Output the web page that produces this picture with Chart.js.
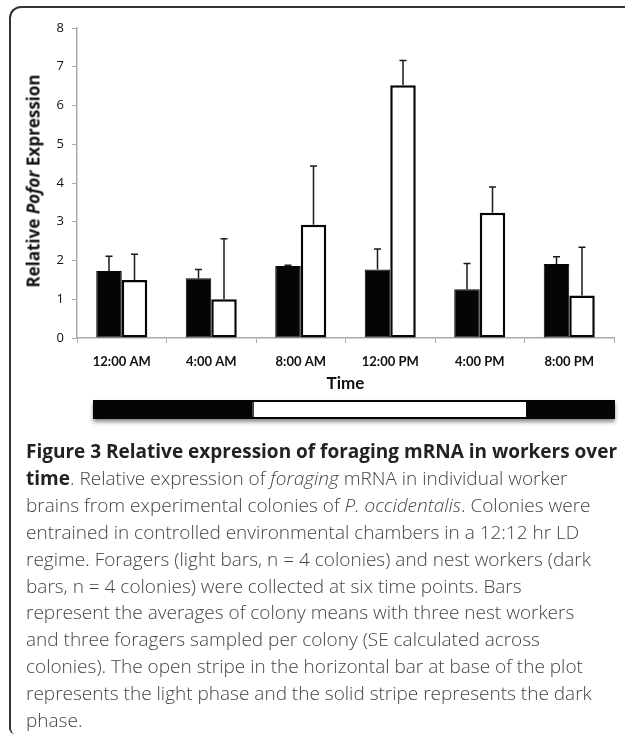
<!DOCTYPE html>
<html>
<head>
<meta charset="utf-8">
<script src="https://cdn.jsdelivr.net/npm/chart.js@4.4.1/dist/chart.umd.min.js"></script>
<style>
  html, body { margin: 0; padding: 0; background: #fff; }
  #page { position: relative; width: 625px; height: 737px; overflow: hidden; }
  #frame {
    position: absolute; left: 9px; top: 6px; width: 640px; height: 728px;
    border-top: 2px solid #333; border-left: 2px solid #333;
    border-top-left-radius: 12px; border-bottom-left-radius: 6px;
    box-sizing: border-box;
  }
  #chartBox { position: absolute; left: 0; top: 0; width: 625px; height: 400px; }
  #ytitle {
    position: absolute; left: 33px; top: 181px; white-space: nowrap;
    font: bold 17px "Open Sans", sans-serif; color: #111;
    transform: translate(-50%, -50%) rotate(-90deg);
  }
  #stripe {
    position: absolute; left: 93px; top: 400px; width: 522px; height: 19px;
    background: #050505; box-shadow: 0 3px 4px rgba(0,0,0,0.45);
  }
  #light {
    position: absolute; left: 159px; top: 2px; width: 272px; height: 15px;
    background: #fff; border-left: 2px solid #444;
  }
  #caption {
    position: absolute; left: 26px; top: 438px;
    font: 19px "Open Sans", sans-serif; line-height: 26.9px; color: #444;
    font-weight: 300;
  }
  #caption div { white-space: nowrap; }
  #caption b { color: #222; font-weight: 700; }
</style>
</head>
<body>
<div id="page">
  <div id="frame"></div>
  <div id="chartBox"><canvas id="chart" width="625" height="400"></canvas></div>
  <div id="ytitle">Relative <i>Pofor</i> Expression</div>
  <div id="stripe"><div id="light"></div></div>
  <div id="caption">
    <div><b>Figure 3 Relative expression of foraging mRNA in workers over</b></div>
    <div><b>time</b>. Relative expression of <i>foraging</i> mRNA in individual worker</div>
    <div>brains from experimental colonies of <i>P. occidentalis</i>. Colonies were</div>
    <div>entrained in controlled environmental chambers in a 12:12 hr LD</div>
    <div>regime. Foragers (light bars, n = 4 colonies) and nest workers (dark</div>
    <div>bars, n = 4 colonies) were collected at six time points. Bars</div>
    <div>represent the averages of colony means with three nest workers</div>
    <div>and three foragers sampled per colony (SE calculated across</div>
    <div>colonies). The open stripe in the horizontal bar at base of the plot</div>
    <div>represents the light phase and the solid stripe represents the dark</div>
    <div>phase.</div>
  </div>
</div>
<script>
const times = ['12:00 AM', '4:00 AM', '8:00 AM', '12:00 PM', '4:00 PM', '8:00 PM'];
const nestMeans = [1.73, 1.54, 1.86, 1.77, 1.26, 1.91];
const nestSE = [0.38, 0.23, 0.02, 0.53, 0.66, 0.19];
const foragerMeans = [1.50, 1.00, 2.92, 6.52, 3.23, 1.10];
const foragerSE = [0.66, 1.56, 1.52, 0.64, 0.67, 1.24];

const errorBars = {
  id: 'errorBars',
  afterDatasetsDraw(chart) {
    const { ctx, scales: { y } } = chart;
    ctx.save();
    ctx.strokeStyle = '#1a1a1a';
    ctx.lineWidth = 1.5;
    chart.data.datasets.forEach((ds, i) => {
      const meta = chart.getDatasetMeta(i);
      meta.data.forEach((bar, j) => {
        const top = y.getPixelForValue(ds.data[j] + ds.se[j]);
        ctx.beginPath();
        ctx.moveTo(bar.x, bar.y);
        ctx.lineTo(bar.x, top);
        ctx.moveTo(bar.x - 3.5, top);
        ctx.lineTo(bar.x + 3.5, top);
        ctx.stroke();
      });
    });
    ctx.restore();
  }
};

new Chart(document.getElementById('chart'), {
  type: 'bar',
  data: {
    labels: times,
    datasets: [
      { label: 'Nest workers', data: nestMeans, se: nestSE, backgroundColor: '#050505',
        borderColor: '#050505', borderWidth: 1, borderSkipped: false },
      { label: 'Foragers', data: foragerMeans, se: foragerSE, backgroundColor: '#fff',
        borderColor: '#050505', borderWidth: 2.5, borderSkipped: false }
    ]
  },
  options: {
    responsive: false,
    animation: false,
    events: [],
    layout: { padding: { top: 28, right: 11, bottom: 0, left: 0 } },
    categoryPercentage: 0.57,
    barPercentage: 1.0,
    plugins: { legend: { display: false }, tooltip: { enabled: false } },
    scales: {
      x: {
        grid: { drawOnChartArea: false, color: '#aaa', tickLength: 5, offset: true },
        border: { color: '#aaa', width: 1.5 },
        ticks: { color: '#111', padding: 11.5, font: { family: 'Lato', size: 13, weight: 'bold' } },
        title: { display: true, text: 'Time', color: '#111', padding: { top: 0, bottom: 6.4 },
          font: { family: 'Lato', size: 17, weight: 'bold' } },
        afterFit(scale) { scale.height = 62; }
      },
      y: {
        min: 0, max: 8,
        grid: { drawOnChartArea: false, color: '#aaa', tickLength: 5 },
        border: { color: '#aaa', width: 1.5 },
        ticks: { stepSize: 1, color: '#111', padding: 8, font: { family: 'Open Sans', size: 13 } },
        afterFit(scale) { scale.width = 77; }
      }
    }
  },
  plugins: [errorBars]
});
</script>
</body>
</html>
